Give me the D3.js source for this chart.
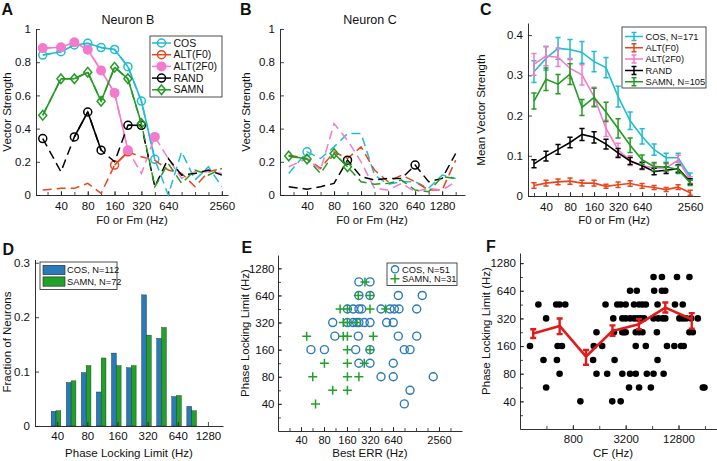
<!DOCTYPE html>
<html><head><meta charset="utf-8">
<script src="https://cdn.jsdelivr.net/npm/d3@7"></script>
<style>body{margin:0;background:#fff}</style>
</head><body>
<script>
// ---------------- DATA ----------------
const fA = [25,40,56.6,80,113,160,226,320,453,640,905,1280,1810,2560];
const fB = [25,40,56.6,80,113,160,226,320,453,640,905,1280,1810];
const fC = [28.3,40,56.6,80,113,160,226,320,453,640,905,1280,1810,2560];
const seriesNames = ["COS","ALT(F0)","ALT(2F0)","RAND","SAMN"];
const xTicksA = [40,80,160,320,640,2560];
const xTicksB = [40,80,160,320,640,1280];
const yTicksAB = [0,0.2,0.4,0.6,0.8,1];
const yTicksC = [0,0.1,0.2,0.3,0.4];

// Panel A (Neuron B)
const A_cos  = [0.843,0.863,0.904,0.914,0.888,0.877,0.773,0.566,0.215,0.0,0.26,0.09,0.17,0.05];
const A_alt  = [0.03,0.04,0.04,0.07,0.01,0.18,0.26,0.23,0.21,0.15,0.13,0.05,0.14,0.16];
const A_alt2 = [0.885,0.89,0.92,0.875,0.75,0.615,0.27,0.13,0.35,0.22,0.1,0.14,0.14,0.13];
const A_rand = [0.34,0.14,0.35,0.5,0.27,0.2,0.42,0.42,0.05,0.22,0.12,0.13,0.15,0.12];
const A_samn = [0.48,0.70,0.70,0.74,0.565,0.77,0.70,0.43,0.05,0.19,0.07,0.15,0.12,0.16];
const A_cosSig  = [0,1,2,3,4,5,6,7,8];
const A_altSig  = [5,6];
const A_alt2Sig = [0,1,2,3,4,5,6,8];
const A_randSig = [0,2,3,4,6,7];
const A_samnSig = [0,1,2,3,4,5,6,7];

// Panel B (Neuron C)
const B_cos  = [0.13,0.26,0.22,0.29,0.37,0.37,0.12,0.065,0.08,0.08,0.04,0.12,0.1];
const B_alt  = [0.24,0.22,0.16,0.26,0.22,0.29,0.15,0.08,0.12,0.08,0.03,0.03,0.21];
const B_alt2 = [0.17,0.22,0.15,0.43,0.33,0.2,0.04,0.03,0.07,0.02,0.04,0.03,0.08];
const B_rand = [0.05,0.035,0.05,0.07,0.21,0.11,0.09,0.1,0.1,0.18,0.08,0.1,0.25];
const B_samn = [0.235,0.217,0.13,0.25,0.17,0.08,0.065,0.07,0.09,0.03,0.02,0.11,0.1];
const B_cosSig  = [1];
const B_altSig  = [];
const B_alt2Sig = [];
const B_randSig = [4,9];
const B_samnSig = [0,1,3,4];

// Panel C (population means, error = half length of bar)
const C_cos     = [0.309,0.342,0.367,0.364,0.357,0.334,0.319,0.247,0.187,0.148,0.115,0.095,0.095,0.048];
const C_cosErr  = [0.027,0.029,0.027,0.025,0.027,0.025,0.025,0.026,0.022,0.019,0.014,0.011,0.011,0.009];
const C_alt     = [0.026,0.032,0.035,0.037,0.032,0.032,0.024,0.028,0.031,0.025,0.021,0.016,0.022,0.008];
const C_altErr  = [0.007,0.007,0.007,0.008,0.007,0.007,0.005,0.007,0.007,0.006,0.005,0.005,0.006,0.006];
const C_alt2    = [0.327,0.348,0.345,0.317,0.301,0.247,0.168,0.115,0.088,0.075,0.07,0.07,0.089,0.04];
const C_alt2Err = [0.027,0.024,0.023,0.025,0.025,0.023,0.02,0.016,0.012,0.01,0.01,0.01,0.012,0.008];
const C_rand    = [0.08,0.099,0.116,0.133,0.153,0.146,0.129,0.107,0.087,0.075,0.061,0.064,0.068,0.036];
const C_randErr = [0.01,0.012,0.012,0.013,0.015,0.014,0.012,0.011,0.009,0.008,0.008,0.008,0.009,0.007];
const C_samn    = [0.236,0.29,0.278,0.303,0.22,0.245,0.209,0.168,0.126,0.09,0.073,0.072,0.066,0.033];
const C_samnErr = [0.02,0.028,0.024,0.026,0.02,0.023,0.024,0.024,0.018,0.012,0.01,0.01,0.01,0.007];
const C_legend  = ["COS, N=171","ALT(F0)","ALT(2F0)","RAND","SAMN, N=105"];

// Panel D (histogram)
const D_bins = [40,56.6,80,113,160,226,320,453,640,905];
const D_cos  = [0.027,0.080,0.098,0.0625,0.134,0.107,0.241,0.161,0.054,0.036];
const D_samn = [0.028,0.083,0.111,0.125,0.111,0.111,0.167,0.181,0.056,0.028];
const D_ticksX = [40,80,160,320,640,1280];
const D_ticksY = [0,0.1,0.2,0.3];
const D_legend = ["COS, N=112","SAMN, N=72"];

// Panel E (Best ERR vs phase-locking limit)
const E_cosErr = [229,320, 229,320,751,1546, 162,193,229,249,446,585,666,767,1307,
  104,162,193,214,229,269,320,528,645, 111,225,751,1307, 54,81,208,320,900,1069,
  229,320,645, 446,645,2153, 1069, 900];
const E_cosLim = [905,905, 640,640,640,640, 453,453,453,453,453,453,453,453,453,
  320,320,320,320,320,320,320,320,320, 226,226,226,226, 160,160,160,160,160,160,
  113,113,113, 80,80,80, 56.6, 40];
const E_samnErr = [275, 225,320, 130,162,320,513, 143,162,214, 47.5,143,162,353, 162,320,
  81,162,269, 57,162,229, 104,162, 62];
const E_samnLim = [905, 640,640, 453,453,453,453, 320,320,320, 226,226,226,226, 160,160,
  113,113,113, 80,80,80, 56.6,56.6, 40];
const E_ticksX = [40,80,160,320,640,2560];
const E_ticksY = [40,80,160,320,640,1280];
const E_legend = ["COS, N=51","SAMN, N=31"];

// Panel F (CF vs phase-locking limit)
const F_cf = [6645,8280,12300,17040,
  3587,4281,6760,8280,9040,
  324,517,565,656,1887,2567,2806,3200,3986,4550,4969,5427,7382,11670,14300,
  397,2310,2930,3200,3587,3986,4355,4754,5193,6645,7513,8430,9040,13100,14300,15610,17810,21230,
  1488,2352,2930,3063,3200,4167,4550,4969,7255,17040,18610,
  260,536,601,1387,1728,4167,5427,9450,11470,13680,14680,
  370,527,1362,2392,7382,
  565,1488,1970,2930,3587,4167,5572,6645,8654,
  397,3494,4550,6195,24230,25290,
  975,2250,2806];
const F_lim = [905,905,905,905,
  640,640,640,640,640,
  453,453,453,453,453,453,453,453,453,453,453,453,453,453,453,
  320,320,320,320,320,320,320,320,320,320,320,320,320,320,320,320,320,320,
  226,226,226,226,226,226,226,226,226,226,226,
  160,160,160,160,160,160,160,160,160,160,160,
  113,113,113,113,113,
  80,80,80,80,80,80,80,80,80,
  56.6,56.6,56.6,56.6,56.6,56.6,
  40,40,40];
const F_meanCF = [283,566,1131,2263,4525,9051,18102];
const F_mean   = [219,265,123,234,277,420,313];
const F_lo     = [196,216,100,207,244,371,248];
const F_hi     = [244,319,145,269,314,477,365];
const F_ticksX = [800,3200,12800];
const F_ticksY = [40,80,160,320,640,1280];

// ---------------- DRAWING ----------------
const FONT = '"Liberation Sans", Arial, Helvetica, sans-serif';
const AXC = "#1a1a1a";
const TFS = 11.5;   // tick font size
const LFS = 11.5;   // axis label font size
const COL = {cos:"#1fbdd2", alt:"#e8461e", alt2:"#f27bcd", rand:"#000000", samn:"#239b23"};
const BLUE = "#2a7ab8", GREEN = "#22a02a";

const svg = d3.select("body").append("svg").attr("width",717).attr("height",461)
  .style("font-family",FONT);

function styleAxis(sel, fs){
  sel.attr("font-family",FONT).attr("font-size",fs||TFS);
  sel.selectAll("path.domain").attr("stroke",AXC).attr("stroke-width",0.9);
  sel.selectAll(".tick line").attr("stroke",AXC).attr("stroke-width",0.8);
  sel.selectAll(".tick text").attr("fill","#111");
}
function xAxis(x, y0, labeled, minor, fmt, fs, pad){
  if(minor && minor.length){
    svg.append("g").attr("transform",`translate(0,${y0})`)
      .call(d3.axisBottom(x).tickValues(minor).tickFormat("").tickSizeInner(-3).tickSizeOuter(0))
      .call(s=>{s.select(".domain").remove(); s.selectAll(".tick line").attr("stroke",AXC).attr("stroke-width",0.8);});
  }
  const g = svg.append("g").attr("transform",`translate(0,${y0})`)
    .call(d3.axisBottom(x).tickValues(labeled).tickFormat(fmt||(d=>d)).tickSizeInner(-4).tickSizeOuter(0).tickPadding(pad==null?7:pad));
  styleAxis(g, fs);
  return g;
}
function yAxis(y, x0, labeled, minor, fmt, pad){
  if(minor && minor.length){
    svg.append("g").attr("transform",`translate(${x0},0)`)
      .call(d3.axisLeft(y).tickValues(minor).tickFormat("").tickSizeInner(-3).tickSizeOuter(0))
      .call(s=>{s.select(".domain").remove(); s.selectAll(".tick line").attr("stroke",AXC).attr("stroke-width",0.8);});
  }
  const g = svg.append("g").attr("transform",`translate(${x0},0)`)
    .call(d3.axisLeft(y).tickValues(labeled).tickFormat(fmt||(d=>d)).tickSizeInner(-4).tickSizeOuter(0).tickPadding(pad==null?5:pad));
  styleAxis(g);
  return g;
}
function text(x,y,s,opt){
  opt=opt||{};
  const t = svg.append("text").attr("x",x).attr("y",y).text(s)
    .attr("font-size",opt.fs||LFS).attr("fill","#111")
    .attr("text-anchor",opt.anchor||"middle");
  if(opt.bold) t.attr("font-weight","bold");
  if(opt.rot) t.attr("transform",`rotate(-90,${x},${y})`);
  return t;
}
function letter(x,y,s){ text(x,y,s,{fs:16,bold:true,anchor:"start"}); }

function marker(g, kind, cx, cy, color, sc){
  sc = sc||1;
  if(kind==="circle") g.append("circle").attr("cx",cx).attr("cy",cy).attr("r",4*sc).attr("fill","none").attr("stroke",color).attr("stroke-width",1.5);
  else if(kind==="dot") g.append("circle").attr("cx",cx).attr("cy",cy).attr("r",5*sc).attr("fill",color);
  else if(kind==="diamond") g.append("path").attr("d",`M${cx},${cy-4.8*sc}L${cx+4*sc},${cy}L${cx},${cy+4.8*sc}L${cx-4*sc},${cy}Z`).attr("fill","none").attr("stroke",color).attr("stroke-width",1.5);
}

const yfmtAB = d=> d===0?"0":(d===1?"1":d.toFixed(1));

// ---- Panel A & B (single neuron) ----
function neuronPanel(x, y, fx, series){
  const g = svg.append("g");
  series.forEach(s=>{
    const pts = fx.map((f,i)=>[x(f), y(s.v[i])]);
    g.append("path").attr("d", d3.line()(pts)).attr("fill","none")
      .attr("stroke",s.c).attr("stroke-width",1.5).attr("stroke-dasharray","9,5");
    for(let j=0;j<s.sig.length-1;j++){
      const a=s.sig[j], b=s.sig[j+1];
      if(b===a+1) g.append("path").attr("d", d3.line()([pts[a],pts[b]])).attr("fill","none")
        .attr("stroke",s.c).attr("stroke-width",1.6);
    }
    s.sig.forEach(i=>marker(g,s.m,pts[i][0],pts[i][1],s.c));
  });
}

// Panel A
const xA = d3.scaleLog().domain([21,3000]).range([36,228]);
const yA = d3.scaleLinear().domain([0,1]).range([195,29]);
const minorAB = [28.3,40,56.6,80,113,160,226,320,453,640,905,1280,1810,2560];
xAxis(xA, 195, xTicksA, minorAB);
yAxis(yA, 36, yTicksAB, [], yfmtAB);
neuronPanel(xA, yA, fA, [
  {v:A_cos, sig:A_cosSig, c:COL.cos, m:"circle"},
  {v:A_alt, sig:A_altSig, c:COL.alt, m:"circle"},
  {v:A_alt2, sig:A_alt2Sig, c:COL.alt2, m:"dot"},
  {v:A_rand, sig:A_randSig, c:COL.rand, m:"circle"},
  {v:A_samn, sig:A_samnSig, c:COL.samn, m:"diamond"}
]);
// legend A
{
  const g = svg.append("g");
  g.append("rect").attr("x",150).attr("y",36).attr("width",72).attr("height",61).attr("fill","#fff").attr("stroke","#222").attr("stroke-width",0.8);
  const cols=[COL.cos,COL.alt,COL.alt2,COL.rand,COL.samn], mk=["circle","circle","dot","circle","diamond"];
  seriesNames.forEach((n,i)=>{
    const yy = 43+i*11.7;
    g.append("line").attr("x1",152).attr("x2",171).attr("y1",yy).attr("y2",yy).attr("stroke",cols[i]).attr("stroke-width",1.5);
    marker(g, mk[i], 161.5, yy, cols[i]);
    g.append("text").attr("x",173.5).attr("y",yy).attr("dy","0.35em").attr("font-size",10.5).attr("fill","#111").text(n);
  });
}
text(128,24,"Neuron B",{fs:12.5});
text(132,224,"F0 or Fm (Hz)");
text(10.5,112,"Vector Strength",{rot:true});
letter(1.5,15,"A");

// Panel B
const xB = d3.scaleLog().domain([20,2300]).range([280,465]);
const yB = d3.scaleLinear().domain([0,1]).range([195,29]);
xAxis(xB, 195, xTicksB, [28.3,40,56.6,80,113,160,226,320,453,640,905,1280,1810]);
yAxis(yB, 280, yTicksAB, [], yfmtAB);
neuronPanel(xB, yB, fB, [
  {v:B_cos, sig:B_cosSig, c:COL.cos, m:"circle"},
  {v:B_alt, sig:B_altSig, c:COL.alt, m:"circle"},
  {v:B_alt2, sig:B_alt2Sig, c:COL.alt2, m:"dot"},
  {v:B_rand, sig:B_randSig, c:COL.rand, m:"circle"},
  {v:B_samn, sig:B_samnSig, c:COL.samn, m:"diamond"}
]);
text(370,24,"Neuron C",{fs:12.5});
text(372,224,"F0 or Fm (Hz)");
text(250,112,"Vector Strength",{rot:true});
letter(240,15,"B");

// Panel C
const xC = d3.scaleLog().domain([23.8,3400]).range([528,700]);
const yC = d3.scaleLinear().domain([0,0.43]).range([196,23]);
xAxis(xC, 196, xTicksA, [28.3,40,56.6,80,113,160,226,320,453,640,905,1280,1810,2560]);
yAxis(yC, 528, yTicksC, [], d=>d===0?"0":d.toFixed(1));
{
  const g = svg.append("g");
  const cs = [
    {v:C_cos,e:C_cosErr,c:COL.cos},
    {v:C_alt,e:C_altErr,c:COL.alt},
    {v:C_alt2,e:C_alt2Err,c:COL.alt2},
    {v:C_rand,e:C_randErr,c:COL.rand},
    {v:C_samn,e:C_samnErr,c:COL.samn}
  ];
  cs.forEach(s=>{
    g.append("path").attr("d", d3.line()(fC.map((f,i)=>[xC(f),yC(s.v[i])]))).attr("fill","none")
      .attr("stroke",s.c).attr("stroke-width",1.6);
    fC.forEach((f,i)=>{
      const cx=xC(f), y1=yC(s.v[i]-s.e[i]), y2=yC(s.v[i]+s.e[i]);
      g.append("path").attr("d",`M${cx},${y1}V${y2}M${cx-2.6},${y1}H${cx+2.6}M${cx-2.6},${y2}H${cx+2.6}`)
        .attr("stroke",s.c).attr("stroke-width",1.5).attr("fill","none");
    });
  });
  // legend C
  g.append("rect").attr("x",622).attr("y",27).attr("width",84).attr("height",61).attr("fill","#fff").attr("stroke","#222").attr("stroke-width",0.8);
  C_legend.forEach((n,i)=>{
    const yy = 36.5+i*11.3, c = cs[i].c;
    g.append("path").attr("d",`M625,${yy}H643M634,${yy-4}V${yy+4}M631.5,${yy-4}H636.5M631.5,${yy+4}H636.5`)
      .attr("stroke",c).attr("stroke-width",1.5).attr("fill","none");
    g.append("text").attr("x",645.5).attr("y",yy).attr("dy","0.35em").attr("font-size",9.3).attr("fill","#111").text(n);
  });
}
text(614,224,"F0 or Fm (Hz)");
text(485,110,"Mean Vector Strength",{rot:true});
letter(480,15,"C");

// Panel D
const xD = d3.scaleLog().domain([24,1810]).range([35,223]);
const yD = d3.scaleLinear().domain([0,0.306]).range([426,259.5]);
{
  const g = svg.append("g");
  D_bins.forEach((b,i)=>{
    const cx = xD(b);
    g.append("rect").attr("x",cx-6).attr("width",4.8).attr("y",yD(D_cos[i])).attr("height",yD(0)-yD(D_cos[i]))
      .attr("fill",BLUE).attr("stroke","#123").attr("stroke-width",0.4);
    g.append("rect").attr("x",cx-1.2).attr("width",4.8).attr("y",yD(D_samn[i])).attr("height",yD(0)-yD(D_samn[i]))
      .attr("fill",GREEN).attr("stroke","#131").attr("stroke-width",0.4);
  });
}
xAxis(xD, 426, D_ticksX, [], null, TFS, 6);
yAxis(yD, 35, D_ticksY, [], d=>d===0?"0":d.toFixed(1));
{
  const g = svg.append("g");
  g.append("rect").attr("x",40).attr("y",262).attr("width",77).attr("height",27.5).attr("fill","#fff").attr("stroke","#222").attr("stroke-width",0.8);
  [BLUE,GREEN].forEach((c,i)=>{
    const yy = 265.3 + i*11.6;
    g.append("rect").attr("x",43).attr("y",yy).attr("width",22).attr("height",9.3).attr("fill",c).attr("stroke","#222").attr("stroke-width",0.6);
    g.append("text").attr("x",67).attr("y",yy+4.8).attr("dy","0.35em").attr("font-size",9.3).attr("fill","#111").text(D_legend[i]);
  });
}
text(129,456.5,"Phase Locking Limit (Hz)");
text(10.5,342,"Fraction of Neurons",{rot:true});
letter(2.5,255,"D");

// Panel E
const xE = d3.scaleLog().domain([20,5120]).range([278,462]);
const yE = d3.scaleLog().domain([20,1800]).range([431,255]);
const halfOct = (lo,hi)=>{const a=[];for(let v=lo;v<=hi*1.001;v*=Math.SQRT2)a.push(v);return a;};
xAxis(xE, 431, E_ticksX, halfOct(28.28,5120).filter(v=>v<5100), null, 11, 5);
yAxis(yE, 278, E_ticksY, halfOct(28.28,1800), null, 3.5);
{
  const g = svg.append("g");
  E_cosErr.forEach((e,i)=>{
    g.append("circle").attr("cx",xE(e)).attr("cy",yE(E_cosLim[i])).attr("r",4).attr("fill","none")
      .attr("stroke",BLUE).attr("stroke-width",1.4);
  });
  E_samnErr.forEach((e,i)=>{
    const cx=xE(e), cy=yE(E_samnLim[i]);
    g.append("path").attr("d",`M${cx-4.5},${cy}H${cx+4.5}M${cx},${cy-4.5}V${cy+4.5}`)
      .attr("stroke",GREEN).attr("stroke-width",1.5);
  });
  g.append("rect").attr("x",387).attr("y",263).attr("width",70).attr("height",22.5).attr("fill","#fff").attr("stroke","#222").attr("stroke-width",0.8);
  g.append("circle").attr("cx",395).attr("cy",269.3).attr("r",3.6).attr("fill","none").attr("stroke",BLUE).attr("stroke-width",1.4);
  g.append("path").attr("d",`M390.5,278.7H399.5M395,274.2V283.2`).attr("stroke",GREEN).attr("stroke-width",1.5);
  g.append("text").attr("x",402).attr("y",269.3).attr("dy","0.35em").attr("font-size",9.3).attr("fill","#111").text(E_legend[0]);
  g.append("text").attr("x",402).attr("y",278.7).attr("dy","0.35em").attr("font-size",9.3).attr("fill","#111").text(E_legend[1]);
}
text(370,457,"Best ERR (Hz)");
text(249,333,"Phase Locking Limit (Hz)",{rot:true});
letter(241.5,253,"E");

// Panel F
const xF = d3.scaleLog().domain([200,38000]).range([520,720]);
const yF = d3.scaleLog().domain([20,1650]).range([429,253]);
const octF=[]; for(let v=400; v<38000; v*=2) octF.push(v);
xAxis(xF, 429, F_ticksX, octF, null, TFS, 6);
yAxis(yF, 520, F_ticksY, halfOct(28.28,1650), null, 4);
{
  const g = svg.append("g");
  F_cf.forEach((c,i)=>{
    g.append("circle").attr("cx",xF(c)).attr("cy",yF(F_lim[i])).attr("r",3.3).attr("fill","#000");
  });
  g.append("path").attr("d", d3.line()(F_meanCF.map((c,i)=>[xF(c),yF(F_mean[i])]))).attr("fill","none")
    .attr("stroke","#e01b1b").attr("stroke-width",2.6).attr("stroke-linejoin","round");
  F_meanCF.forEach((c,i)=>{
    const cx=xF(c), y1=yF(F_lo[i]), y2=yF(F_hi[i]);
    g.append("path").attr("d",`M${cx},${y1}V${y2}M${cx-3},${y1}H${cx+3}M${cx-3},${y2}H${cx+3}`)
      .attr("stroke","#e01b1b").attr("stroke-width",2.4).attr("fill","none");
  });
}
text(613,457,"CF (Hz)");
text(489.5,331,"Phase Locking Limit (Hz)",{rot:true});
letter(486,252,"F");
</script>
</body></html>
